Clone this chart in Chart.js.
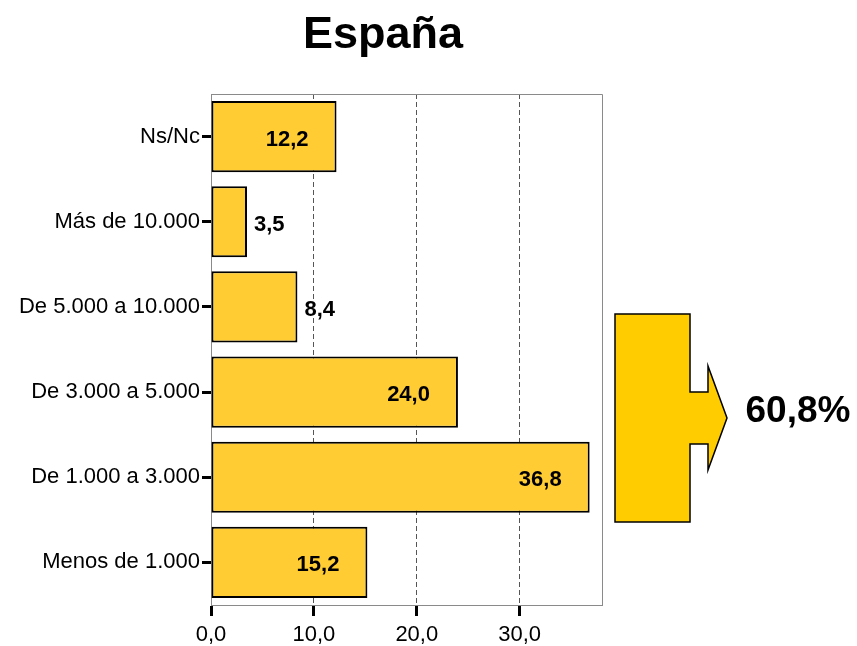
<!DOCTYPE html>
<html>
<head>
<meta charset="utf-8">
<title>España</title>
<script src="https://cdn.jsdelivr.net/npm/chart.js@4.4.1/dist/chart.umd.min.js"></script>
<style>
  html, body { margin: 0; padding: 0; background: #fff; }
  #chart { display: block; }
</style>
</head>
<body>
<canvas id="chart" width="857" height="646"></canvas>
<script>
const categories = ["Ns/Nc", "Más de 10.000", "De 5.000 a 10.000", "De 3.000 a 5.000", "De 1.000 a 3.000", "Menos de 1.000"];
const values = [12.2, 3.5, 8.4, 24.0, 36.8, 15.2];
const xTicks = [0, 10, 20, 30];
const xMax = 38;
const titleText = "España";
const summaryLabel = "60,8%";

const FONT = "'Liberation Sans', Arial, sans-serif";
const fmt = (v) => v.toFixed(1).replace(".", ",");

// title sits over the whole figure, not just the plot
const titlePlugin = {
  id: "figTitle",
  afterDraw(chart) {
    const { ctx } = chart;
    ctx.save();
    ctx.font = `bold 45px ${FONT}`;
    ctx.fillStyle = "#000";
    ctx.textAlign = "center";
    ctx.textBaseline = "alphabetic";
    ctx.fillText(titleText, 383, 48);
    ctx.restore();
  },
};

// frame round the plot area
const framePlugin = {
  id: "frame",
  afterDraw(chart) {
    const { ctx, chartArea: a } = chart;
    ctx.save();
    ctx.strokeStyle = "#8a8a8a";
    ctx.lineWidth = 1;
    ctx.beginPath();
    ctx.moveTo(a.left, a.top + 0.5);
    ctx.lineTo(a.right + 0.5, a.top + 0.5);
    ctx.lineTo(a.right + 0.5, a.bottom);
    ctx.stroke();
    ctx.restore();
  },
};

// value labels, inside the bar end or just outside for short bars
const valueLabels = {
  id: "valueLabels",
  afterDatasetsDraw(chart) {
    const { ctx } = chart;
    const meta = chart.getDatasetMeta(0);
    ctx.save();
    ctx.font = `bold 22px ${FONT}`;
    ctx.fillStyle = "#000";
    ctx.textBaseline = "middle";
    meta.data.forEach((bar, i) => {
      const v = values[i];
      if (v < 10) {
        ctx.textAlign = "left";
        ctx.fillText(fmt(v), bar.x + 7, bar.y + 3);
      } else {
        ctx.textAlign = "right";
        ctx.fillText(fmt(v), bar.x - 28, bar.y + 3);
      }
    });
    ctx.restore();
  },
};

// block arrow with the summed share
const arrowPlugin = {
  id: "arrow",
  afterDraw(chart) {
    const { ctx, chartArea: a } = chart;
    const r = a.right, t = a.top;
    ctx.save();
    ctx.beginPath();
    ctx.moveTo(r + 13, t + 220);
    ctx.lineTo(r + 88, t + 220);
    ctx.lineTo(r + 88, t + 298);
    ctx.lineTo(r + 106, t + 298);
    ctx.lineTo(r + 106, t + 272);
    ctx.lineTo(r + 125, t + 324);
    ctx.lineTo(r + 106, t + 376);
    ctx.lineTo(r + 106, t + 350);
    ctx.lineTo(r + 88, t + 350);
    ctx.lineTo(r + 88, t + 428);
    ctx.lineTo(r + 13, t + 428);
    ctx.closePath();
    ctx.fillStyle = "#ffcc00";
    ctx.fill();
    ctx.strokeStyle = "#000";
    ctx.lineWidth = 1.5;
    ctx.stroke();
    ctx.font = `bold 37px ${FONT}`;
    ctx.fillStyle = "#000";
    ctx.textAlign = "center";
    ctx.textBaseline = "middle";
    ctx.fillText(summaryLabel, r + 196, t + 318);
    ctx.restore();
  },
};

new Chart(document.getElementById("chart"), {
  type: "bar",
  data: {
    labels: categories,
    datasets: [
      {
        data: values,
        backgroundColor: "#ffcc33",
        borderColor: "#000",
        borderWidth: 2,
        borderSkipped: false,
        categoryPercentage: 1,
        barPercentage: 0.835,
      },
    ],
  },
  options: {
    indexAxis: "y",
    responsive: false,
    animation: false,
    layout: { padding: { left: 0, right: 255, top: 94, bottom: 0 } },
    plugins: {
      legend: { display: false },
      tooltip: { enabled: false },
      title: { display: false },
    },
    scales: {
      x: {
        min: 0,
        max: xMax,
        afterFit: (scale) => { scale.height = 41; },
        afterBuildTicks: (scale) => { scale.ticks = xTicks.map((value) => ({ value })); },
        ticks: {
          color: "#000",
          padding: 6,
          font: { family: FONT, size: 22 },
          callback: (v) => fmt(v),
        },
        grid: {
          color: (c) => (c.tick && c.tick.value === 0 ? "rgba(0,0,0,0)" : "#555"),
          lineWidth: 1,
          drawTicks: true,
          tickLength: 11,
          tickColor: "#000",
          tickWidth: 3,
        },
        border: { display: true, color: "#8a8a8a", width: 1, dash: [5, 3] },
      },
      y: {
        afterFit: (scale) => { scale.width = 211; },
        ticks: {
          color: "#000",
          padding: 2,
          font: { family: FONT, size: 22 },
        },
        grid: {
          offset: false,
          drawOnChartArea: false,
          tickLength: 9,
          tickColor: "#000",
          tickWidth: 3,
        },
        border: { display: true, color: "#8a8a8a", width: 1 },
      },
    },
  },
  plugins: [titlePlugin, framePlugin, valueLabels, arrowPlugin],
});
</script>
</body>
</html>
